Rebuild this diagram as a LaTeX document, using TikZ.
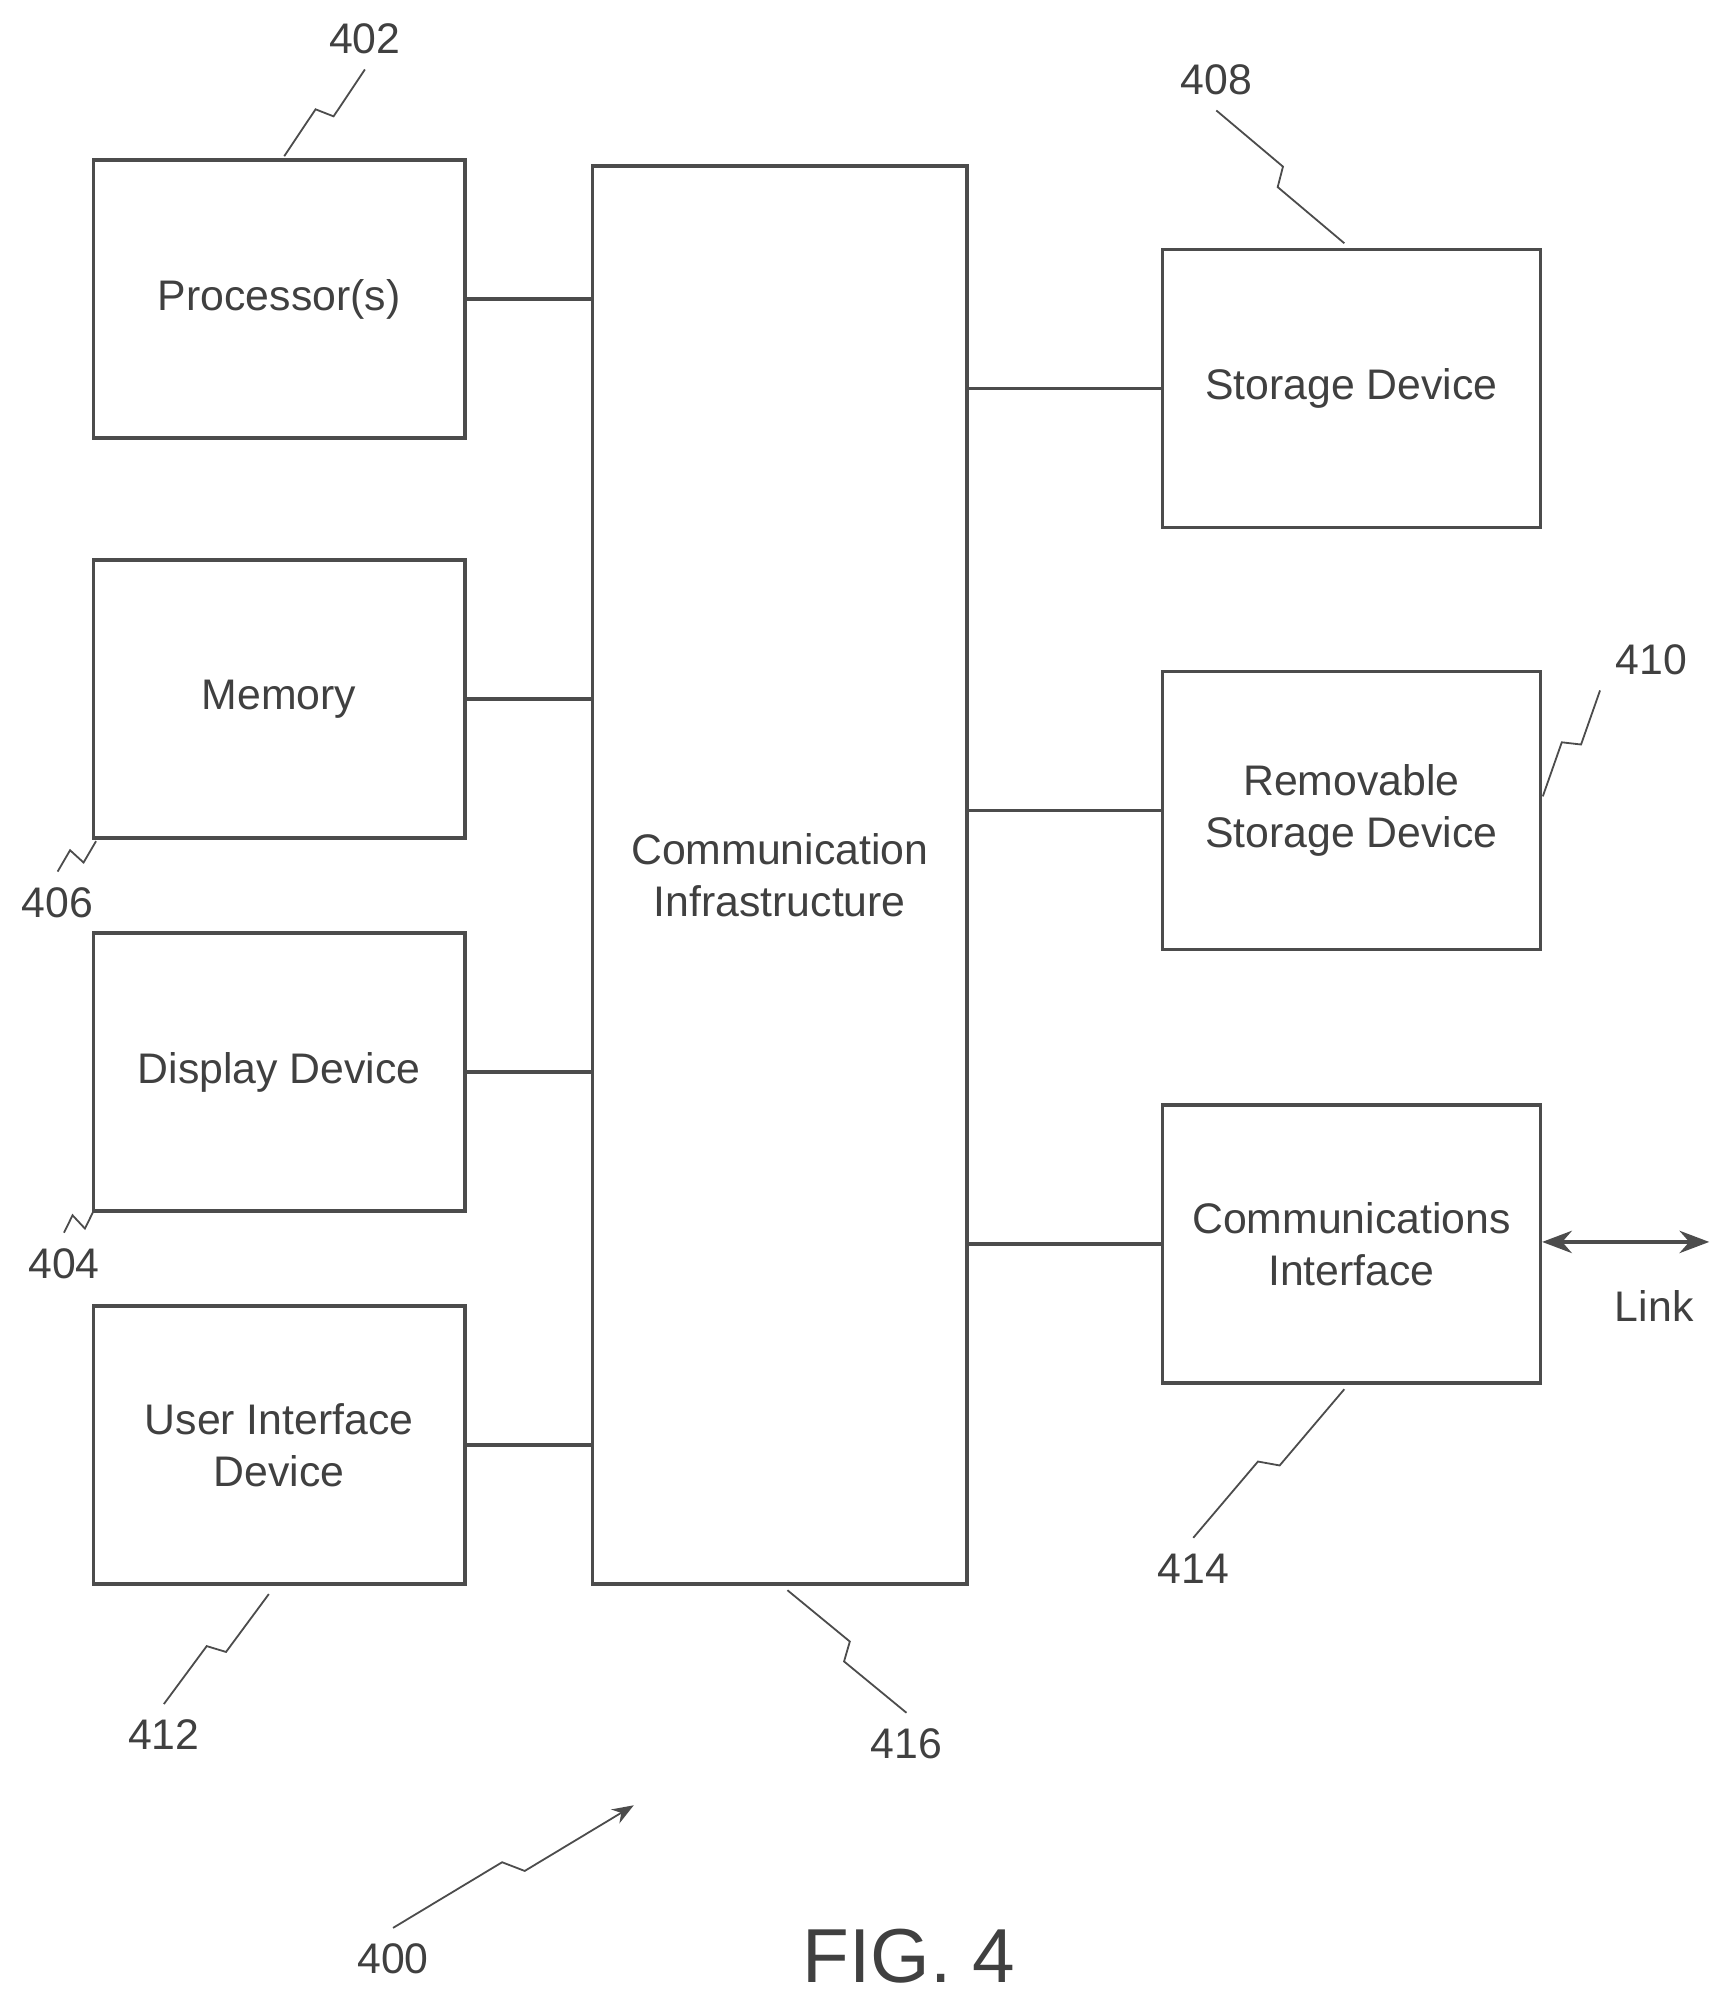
\documentclass[tikz,border=0pt]{standalone}
\usepackage{fontspec}
\setmainfont{Liberation Sans}
\usetikzlibrary{calc,arrows.meta}

\begin{document}
\begin{tikzpicture}[x=0.01cm,y=-0.01cm,draw=black!70,font=\fontsize{9.5}{11.5}\selectfont]
\tikzstyle{block}=[draw,thick,minimum width=2.9cm,minimum height=2.17cm,inner sep=2pt,align=center,text=black!75]
\tikzstyle{refnum}=[text=black!75]
\tikzstyle{leader}=[thin,to path={-- ($(\tikztostart)!.47!(\tikztotarget)!2pt!90:(\tikztotarget)$) -- ($(\tikztostart)!.53!(\tikztotarget)!-2pt!90:(\tikztotarget)$) -- (\tikztotarget)}]
\useasboundingbox (0,0) rectangle (1350,1566);

% Blocks on the left
\node[block] (proc) at (218,233.5) {Processor(s)};
\node[block] (mem) at (218,546) {Memory};
\node[block] (disp) at (218,837.5) {Display Device};
\node[block] (ui) at (218,1128.5) {User Interface\\Device};

% Bus in the middle
\node[block,minimum width=2.92cm,minimum height=11.07cm] (comm) at (609,683.5) {Communication\\Infrastructure};

% Blocks on the right
\node[block,minimum width=2.95cm] (stor) at (1055.5,303.5) {Storage Device};
\node[block,minimum width=2.95cm] (rem) at (1055.5,633) {Removable\\Storage Device};
\node[block,minimum width=2.95cm,inner sep=0pt] (cif) at (1055.5,971.5) {Communications\\Interface};

% Connect blocks with the bus
\foreach \src in {proc,mem,disp,ui}
\draw[thick] (\src.east) -- (\src.east -| comm.west);
\foreach \dst in {stor,rem,cif}
\draw[thick] (\dst.west) -- (\dst.west -| comm.east);

% Link
\coordinate (linkend) at (1335,970);
\draw[thick,{Stealth}-{Stealth}] (cif.east |- linkend) -- (linkend);
\node[refnum] (link) at (1292,1020) {Link};

% Reference numerals
\node[refnum] (n402) at (285,30) {402};
\node[refnum] (n408) at (950,62) {408};
\node[refnum] (n410) at (1290,515) {410};
\node[refnum] (n406) at (45,705) {406};
\node[refnum] (n404) at (50,987) {404};
\node[refnum] (n412) at (128,1355) {412};
\node[refnum] (n414) at (932,1225) {414};
\node[refnum] (n416) at (708,1362) {416};
\node[refnum] (n400) at (307,1530) {400};
\node[text=black!75,font=\fontsize{17}{20}\selectfont] (fig) at (710,1528) {FIG. 4};

\coordinate (c402) at (222,122);
\coordinate (c408) at (1050,190);
\coordinate (c410) at (1205,622);
\coordinate (c406) at (75,657);
\coordinate (c404) at (73,946);
\coordinate (c412) at (210,1245);
\coordinate (c414) at (1050,1085);
\coordinate (c416) at (615,1242);
\coordinate (c400) at (495,1410);

\draw[leader] (c402) to (n402.south);
\draw[leader] (c408) to (n408.south);
\draw[leader] (c410) to (n410.south west);
\draw[leader] (c406) to (n406.north);
\draw[leader] (c404) to (n404.north);
\draw[leader] (c412) to (n412.north);
\draw[leader] (c414) to (n414.north);
\draw[leader] (c416) to (n416.north);
\draw[leader,-{Stealth}] (n400.north) to (c400);
\end{tikzpicture}
\end{document}
